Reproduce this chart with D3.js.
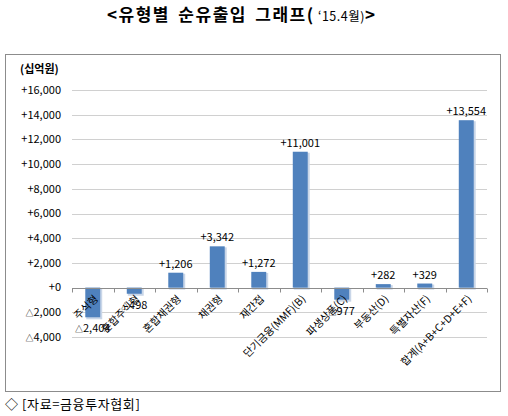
<!DOCTYPE html>
<html>
<head>
<meta charset="utf-8">
<script src="https://cdn.jsdelivr.net/npm/d3@7"></script>
<style>
  body { margin: 0; background: #fff; }
  text { font-family: "Noto Sans CJK KR", "Noto Sans", sans-serif; fill: #000; }
</style>
</head>
<body>
<script>
// categories and values (십억원)
var categories = ["주식형", "혼합주식형", "혼합채권형", "채권형", "재간접",
                  "단기금융(MMF)(B)", "파생상품(C)", "부동산(D)", "특별자산(F)", "합계(A+B+C+D+E+F)"];
var values = [-2404, -498, 1206, 3342, 1272, 11001, -977, 282, 329, 13554];
var yTicks = [-4000, -2000, 0, 2000, 4000, 6000, 8000, 10000, 12000, 14000, 16000];

var W = 508, H = 416;
var plot = {left: 72, right: 487, top: 90, bottom: 337};

var svg = d3.select("body").append("svg")
    .attr("width", W)
    .attr("height", H);

var fmt = d3.format(",");

// writes "+1,206" or a small triangle followed by the magnitude
function signedText(sel, v) {
  if (v < 0) {
    sel.append("tspan").attr("font-size", 8).text("\u25B3");
    sel.append("tspan").text(fmt(-v));
  } else {
    sel.text("+" + fmt(v));
  }
}

// title
var title = svg.append("text")
    .attr("x", 241)
    .attr("y", 21)
    .attr("text-anchor", "middle");
title.append("tspan").attr("font-size", 17).attr("font-weight", "bold")
    .attr("letter-spacing", 1.5).attr("word-spacing", 3)
    .text("<유형별 순유출입 그래프(");
title.append("tspan").attr("font-size", 12.5).attr("letter-spacing", 0.5).text("  \u201815.4월)");
title.append("tspan").attr("font-size", 17).attr("font-weight", "bold").text(">");

// chart border
svg.append("rect")
    .attr("x", 5.5).attr("y", 54.5)
    .attr("width", 495).attr("height", 337)
    .attr("fill", "none")
    .attr("stroke", "#8c8c8c");

svg.append("text")
    .attr("x", 20).attr("y", 73)
    .attr("font-size", 11).attr("font-weight", "bold")
    .text("(십억원)");

var x = d3.scaleBand()
    .domain(categories)
    .range([plot.left, plot.right])
    .paddingInner(0.64)
    .paddingOuter(0.32);

var y = d3.scaleLinear()
    .domain([-4000, 16000])
    .range([plot.bottom, plot.top]);

// gridlines
svg.append("g")
  .selectAll("line")
  .data(yTicks.filter(function(d) { return d !== 0; }))
  .join("line")
    .attr("x1", plot.left).attr("x2", plot.right)
    .attr("y1", function(d) { return Math.round(y(d)) + 0.5; })
    .attr("y2", function(d) { return Math.round(y(d)) + 0.5; })
    .attr("stroke", "#d0d0d0");

// y axis labels
svg.append("g")
  .selectAll("text")
  .data(yTicks)
  .join("text")
    .attr("x", 61)
    .attr("y", function(d) { return y(d); })
    .attr("dy", "0.35em")
    .attr("text-anchor", "end")
    .attr("font-size", 11)
    .each(function(d) {
      var t = d3.select(this);
      if (d === 0) t.text("+0"); else signedText(t, d);
    });

// bars with a soft shadow
var bars = svg.append("g");
bars.selectAll("rect.shadow")
  .data(values)
  .join("rect")
    .attr("class", "shadow")
    .attr("x", function(d, i) { return x(categories[i]) + 1; })
    .attr("y", function(d) { return Math.min(y(d), y(0)) + 1; })
    .attr("width", x.bandwidth() + 1)
    .attr("height", function(d) { return Math.abs(y(d) - y(0)) + 1; })
    .attr("fill", "#c9d6e8");
bars.selectAll("rect.bar")
  .data(values)
  .join("rect")
    .attr("class", "bar")
    .attr("x", function(d, i) { return x(categories[i]); })
    .attr("y", function(d) { return Math.min(y(d), y(0)); })
    .attr("width", x.bandwidth())
    .attr("height", function(d) { return Math.abs(y(d) - y(0)); })
    .attr("fill", "#4f81bd");

// zero axis with ticks at category boundaries
var y0 = Math.round(y(0)) + 0.5;
svg.append("line")
    .attr("x1", plot.left).attr("x2", plot.right)
    .attr("y1", y0).attr("y2", y0)
    .attr("stroke", "#8c8c8c");
var step = x.step();
svg.append("g")
  .selectAll("line")
  .data(d3.range(categories.length + 1))
  .join("line")
    .attr("x1", function(i) { return Math.round(plot.left + i * step) + 0.5; })
    .attr("x2", function(i) { return Math.round(plot.left + i * step) + 0.5; })
    .attr("y1", y0).attr("y2", y0 + 4)
    .attr("stroke", "#8c8c8c");

// value labels
svg.append("g")
  .selectAll("text")
  .data(values)
  .join("text")
    .attr("x", function(d, i) { return x(categories[i]) + x.bandwidth() / 2; })
    .attr("y", function(d) { return d >= 0 ? y(d) - 5 : y(d) + 15; })
    .attr("text-anchor", "middle")
    .attr("font-size", 11)
    .each(function(d) { signedText(d3.select(this), d); });

// category labels, rotated
svg.append("g")
  .selectAll("text")
  .data(categories)
  .join("text")
    .attr("transform", function(d) {
      var cx = x(d) + x.bandwidth() / 2 + 6;
      return "translate(" + cx + "," + (y(0) + 12) + ") rotate(-45)";
    })
    .attr("text-anchor", "end")
    .attr("font-size", 10.5)
    .text(function(d) { return d; });

// source note
svg.append("text")
    .attr("x", 5).attr("y", 409)
    .attr("font-size", 13)
    .attr("letter-spacing", 0.6)
    .text("\u25C7 [자료=금융투자협회]");
</script>
</body>
</html>
